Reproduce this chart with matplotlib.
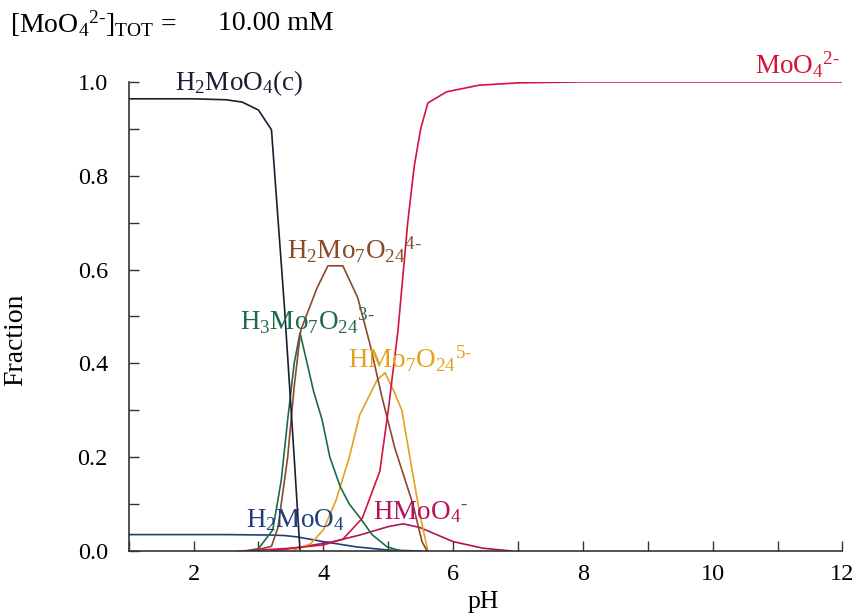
import matplotlib
matplotlib.use("Agg")
import matplotlib.pyplot as plt
from matplotlib.ticker import MultipleLocator

plt.rcParams['font.family'] = ['Liberation Serif', 'DejaVu Serif']
plt.rcParams['mathtext.fontset'] = 'custom'
plt.rcParams['mathtext.rm'] = 'Liberation Serif'
plt.rcParams['mathtext.it'] = 'Liberation Serif:italic'
plt.rcParams['mathtext.bf'] = 'Liberation Serif:bold'

# fraction curves (pH, fraction)
ph_solid = [1.0, 2.0, 2.5, 2.75, 3.0, 3.2, 3.4, 3.55, 3.64]
fr_solid = [0.964, 0.964, 0.962, 0.957, 0.94, 0.898, 0.52, 0.2, 0.0]

ph_h2moo4 = [1.0, 2.5, 3.2, 3.4, 3.6, 4.0, 4.5, 5.0, 5.5]
fr_h2moo4 = [0.035, 0.035, 0.034, 0.033, 0.03, 0.02, 0.009, 0.002, 0.0]

ph_moo4 = [2.7, 3.0, 3.5, 4.0, 4.3, 4.6, 4.87, 5.0, 5.15, 5.3, 5.4, 5.5, 5.61,
           5.9, 6.4, 7.0, 8.0, 12.0]
fr_moo4 = [0.0, 0.002, 0.006, 0.013, 0.025, 0.07, 0.17, 0.3, 0.47, 0.7, 0.82,
           0.9, 0.955, 0.979, 0.993, 0.998, 1.0, 1.0]

ph_h2mo7 = [2.9, 3.2, 3.3, 3.45, 3.55, 3.65, 3.9, 4.07, 4.3, 4.53, 4.72, 4.9,
            5.1, 5.38, 5.52, 5.6]
fr_h2mo7 = [0.0, 0.01, 0.05, 0.2, 0.35, 0.47, 0.56, 0.608, 0.608, 0.54, 0.44,
            0.33, 0.22, 0.1, 0.02, 0.0]

ph_h3mo7 = [2.8, 3.0, 3.22, 3.35, 3.45, 3.55, 3.64, 3.75, 3.85, 3.98, 4.1, 4.26,
            4.4, 4.57, 4.75, 4.98, 5.2]
fr_h3mo7 = [0.0, 0.005, 0.045, 0.15, 0.28, 0.4, 0.465, 0.40, 0.34, 0.28, 0.2,
            0.137, 0.1, 0.07, 0.035, 0.009, 0.0]

ph_hmo7 = [3.5, 3.8, 4.0, 4.2, 4.4, 4.56, 4.83, 4.95, 5.08, 5.21, 5.37, 5.5, 5.61]
fr_hmo7 = [0.0, 0.015, 0.045, 0.11, 0.2, 0.29, 0.365, 0.38, 0.343, 0.30, 0.17,
           0.07, 0.0]

ph_hmoo4 = [3.2, 3.64, 4.15, 4.56, 5.0, 5.23, 5.49, 6.0, 6.46, 6.9]
fr_hmoo4 = [0.0, 0.008, 0.02, 0.034, 0.052, 0.058, 0.05, 0.02, 0.006, 0.0]

fig = plt.figure(figsize=(8.64, 6.16), dpi=100)
ax = fig.add_axes([0.149, 0.1055, 0.826, 0.7615])

c_solid = '#1c1c33'
c_blue = '#1f3f7f'
c_red = '#d4143c'
c_brown = '#8a4a2a'
c_green = '#1e6a4c'
c_orange = '#e2a21e'
c_mag = '#b4125a'

lw = 1.2
ax.plot(ph_hmoo4, fr_hmoo4, color=c_mag, lw=lw)
ax.plot(ph_h2moo4, fr_h2moo4, color=c_blue, lw=lw)
ax.plot(ph_hmo7, fr_hmo7, color=c_orange, lw=lw)
ax.plot(ph_h3mo7, fr_h3mo7, color=c_green, lw=lw)
ax.plot(ph_h2mo7, fr_h2mo7, color=c_brown, lw=lw)
ax.plot(ph_moo4, fr_moo4, color=c_red, lw=lw)
ax.plot(ph_solid, fr_solid, color=c_solid, lw=lw)

fs = 19.5
ax.text(1.72, 0.997, r'H$_2$MoO$_4$(c)', color=c_solid, fontsize=fs, va='center')
ax.text(11.97, 1.036, r'MoO$_4$$^{2\text{-}}$', color=c_red, fontsize=fs,
        va='center', ha='right')
ax.text(3.44, 0.642, r'H$_2$Mo$_7$O$_{24}$$^{4\text{-}}$', color=c_brown,
        fontsize=fs, va='center')
ax.text(2.71, 0.49, r'H$_3$Mo$_7$O$_{24}$$^{3\text{-}}$', color=c_green,
        fontsize=fs, va='center')
ax.text(4.38, 0.41, r'HMo$_7$O$_{24}$$^{5\text{-}}$', color=c_orange,
        fontsize=fs, va='center')
ax.text(2.8, 0.066, r'H$_2$MoO$_4$', color=c_blue, fontsize=fs, va='center')
ax.text(4.77, 0.083, r'HMoO$_4$$^{\text{-}}$', color=c_mag, fontsize=fs,
        va='center')

fig.text(0.012, 0.962, r'[MoO$_4$$^{2\text{-}}$]$_{\mathrm{TOT}}$ =',
         fontsize=20, va='center')
fig.text(0.252, 0.962, '10.00 mM', fontsize=20, va='center')

ax.set_xlim(1, 12)
ax.set_ylim(0, 1.0)
ax.xaxis.set_major_locator(MultipleLocator(2))
ax.xaxis.set_minor_locator(MultipleLocator(1))
ax.yaxis.set_major_locator(MultipleLocator(0.2))
ax.yaxis.set_minor_locator(MultipleLocator(0.1))
ax.set_xticks([2, 4, 6, 8, 10, 12])
ax.set_yticks([0.0, 0.2, 0.4, 0.6, 0.8, 1.0])
ax.set_yticklabels(['0.0', '0.2', '0.4', '0.6', '0.8', '1.0'])
ax.tick_params(which='both', direction='in', length=7, width=1.0,
               color='#333333', labelsize=17.5)
ax.tick_params(axis='y', which='both', pad=15)
ax.tick_params(axis='x', which='both', pad=9)
for s in ['top', 'right']:
    ax.spines[s].set_visible(False)
for s in ['left', 'bottom']:
    ax.spines[s].set_color('#333333')
    ax.spines[s].set_linewidth(1.2)

ax.set_xlabel('pH', fontsize=18.5)
ax.xaxis.set_label_coords(0.497, -0.085)
ax.set_ylabel('Fraction', fontsize=20)
ax.yaxis.set_label_coords(-0.141, 0.45)

fig.savefig('out.png', dpi=100)
